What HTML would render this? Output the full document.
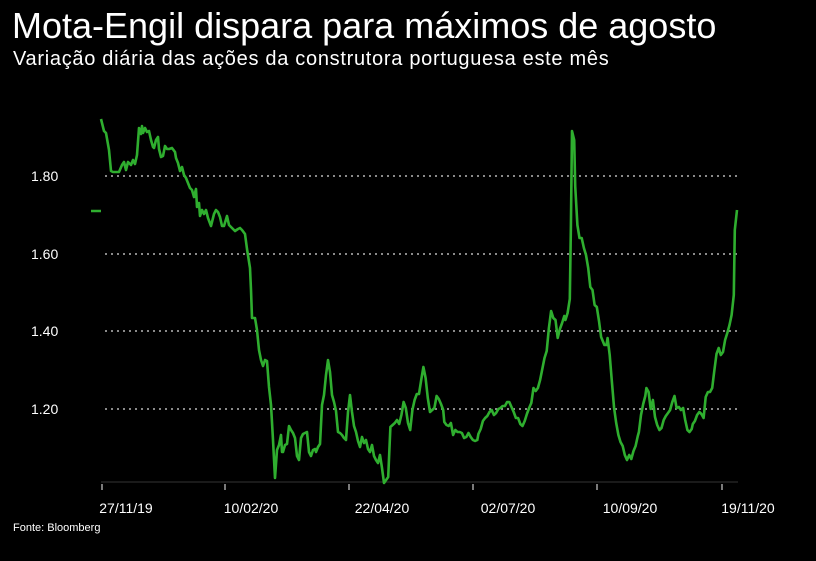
<!DOCTYPE html>
<html><head><meta charset="utf-8"><style>
body{margin:0;background:#000;width:816px;height:561px;overflow:hidden;font-family:"Liberation Sans",sans-serif;color:#fff}
.t{position:absolute;left:12px;top:5px;font-size:36px;letter-spacing:0px;white-space:nowrap}
.s{position:absolute;left:13px;top:48px;font-size:20px;letter-spacing:0.7px;white-space:nowrap}
</style></head><body>
<div class="t">Mota-Engil dispara para máximos de agosto</div>
<div class="s">Variação diária das ações da construtora portuguesa este mês</div>
<svg width="816" height="561" style="position:absolute;left:0;top:0">
<g stroke="#ddd" stroke-width="1.2" stroke-dasharray="2,4">
<line x1="105" y1="176" x2="738" y2="176"/><line x1="105" y1="254" x2="738" y2="254"/>
<line x1="105" y1="331" x2="738" y2="331"/><line x1="105" y1="409" x2="738" y2="409"/>
</g>
<g fill="#fff" font-size="14" font-family="Liberation Sans,sans-serif">
<text x="31" y="181">1.80</text><text x="31" y="259">1.60</text><text x="31" y="336">1.40</text><text x="31" y="414">1.20</text>
<text x="126" y="513" text-anchor="middle">27/11/19</text>
<text x="251" y="513" text-anchor="middle">10/02/20</text>
<text x="382" y="513" text-anchor="middle">22/04/20</text>
<text x="508" y="513" text-anchor="middle">02/07/20</text>
<text x="630" y="513" text-anchor="middle">10/09/20</text>
<text x="748" y="513" text-anchor="middle">19/11/20</text>
<text x="13" y="531" font-size="11">Fonte: Bloomberg</text>
</g>
<line x1="101" y1="482" x2="738" y2="482" stroke="#222" stroke-width="1.5"/>
<g stroke="#ccc" stroke-width="1.2"><line x1="102" y1="484" x2="102" y2="490"/><line x1="225" y1="484" x2="225" y2="490"/><line x1="349" y1="484" x2="349" y2="490"/><line x1="473" y1="484" x2="473" y2="490"/><line x1="597" y1="484" x2="597" y2="490"/><line x1="722" y1="484" x2="722" y2="490"/></g>
<line x1="91" y1="211" x2="101" y2="211" stroke="#2fae2f" stroke-width="2.5"/>
<polyline id="ln" fill="none" stroke="#2fae2f" stroke-width="2.6" stroke-linejoin="round" points=""/>
</svg>
<script>
var raw="101,119 104,131 106,133 109,150 111,171 113,172 117,172 119,172 122,165 124,162 126,170 128,162 131,165 133,160 135,164 137,155 139,128 141,134 142,126 143,133 145,128 147,132 149,131 151,140 153,147 154,148 156,140 158,137 159,149 161,157 163,156 165,146 167,149 169,149 172,148 175,152 176,158 178,163 180,171 182,167 184,175 186,178 188,183 190,188 192,190 194,197 196,189 197,207 199,203 200,216 202,210 204,214 206,210 208,218 211,226 214,214 216,210 218,212 220,217 222,226 224,226 227,216 229,225 232,228 234,230 235,231 238,229 240,228 242,230 245,234 247,249 250,268 251,290 252,318 255,318 257,330 259,350 261,360 263,366 265,360 267,361 269,387 271,405 273,440 275,478 277,450 279,445 281,435 282,452 283,452 285,445 287,444 289,426 291,430 293,433 295,438 297,456 299,460 301,438 303,434 305,433 307,432 309,452 311,456 313,450 315,449 316,452 318,447 320,444 322,405 324,395 326,375 328,360 330,372 332,395 334,402 336,411 338,432 340,433 342,435 344,438 346,440 348,412 350,395 352,412 354,426 356,432 358,441 360,447 362,437 364,443 366,440 368,449 370,452 372,445 374,456 376,460 378,463 380,455 382,468 384,483 386,477 388,427 390,425 392,423 394,420 396,424 398,415 400,402 402,408 404,423 406,430 408,410 410,400 412,394 414,394 416,380 418,367 420,378 422,398 424,412 426,410 428,408 430,396 432,399 434,404 436,410 437,422 439,425 441,426 443,423 445,435 447,430 449,432 451,432 453,433 455,438 457,437 459,433 461,437 463,440 465,441 467,440 468,434 470,429 472,421 474,418 476,416 478,412 480,410 482,415 484,413 486,409 488,408 490,406 492,406 494,402 496,402 498,407 500,412 502,418 504,418 506,424 508,426 510,421 512,414 514,408 516,403 518,388 520,391 522,388 524,380 526,369 528,358 530,351 532,328 534,311 536,318 538,320 540,338 542,329 544,323 546,316 547,320 549,313 551,299 552,226 553,131 555,140 556,186 558,225 560,238 562,238 564,248 566,255 568,268 570,287 572,290 574,305 576,307 578,321 580,337 583,345 585,345 586,338 588,355 590,382 592,408 594,423 596,435 598,442 600,446 602,455 604,460 606,455 608,459 610,451 612,446 614,436 615,432 617,415 619,404 621,396 622,388 624,392 626,409 628,400 630,417 632,425 634,430 636,428 638,420 640,416 642,413 644,410 646,402 648,396 650,408 652,407 654,410 656,408 658,420 660,430 662,432 664,429 665,424 667,421 669,415 671,412 673,414 675,418 677,397 679,392 681,392 683,388 685,370 687,354 689,348 691,355 693,352 695,340 697,333 699,325 701,315 703,295 704,230 706,210";
var out=raw.split(" ").map(function(p){var a=p.split(",").map(Number),x=a[0];
if(x>553)x=572+(x-553)*165/153;else if(x>384)x=386+(x-384)*186/169;
return x.toFixed(1)+","+a[1];}).join(" ");
document.getElementById("ln").setAttribute("points",out);
</script>
</body></html>
